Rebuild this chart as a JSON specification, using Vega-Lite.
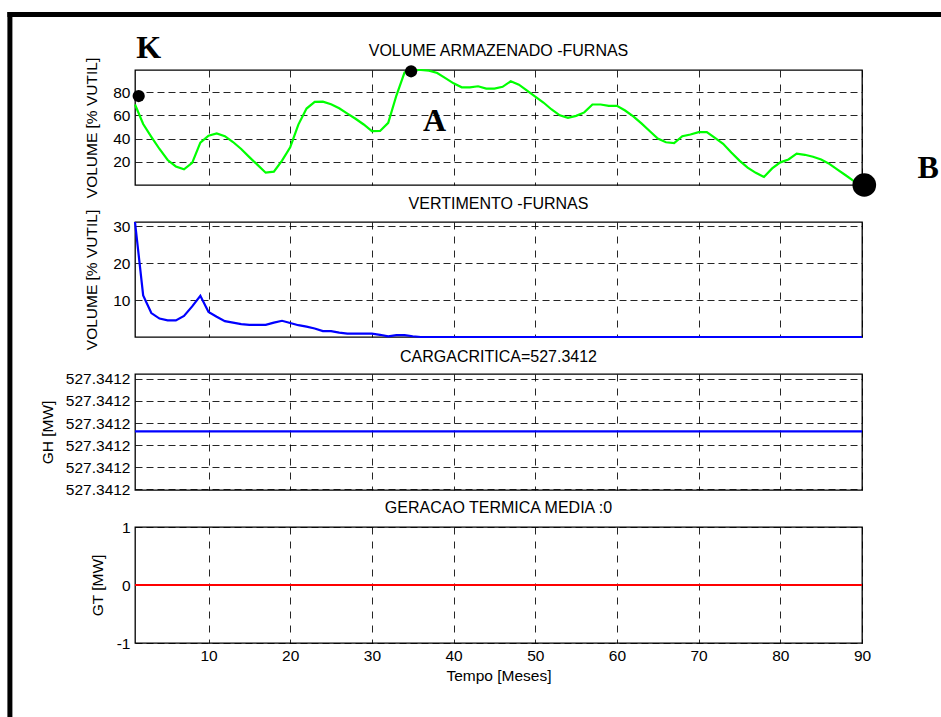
{
  "$schema": "https://vega.github.io/schema/vega-lite/v6.json",
  "background": "white",
  "padding": {"left": 4, "top": 8, "right": 0, "bottom": 0},
  "bounds": "flush",
  "spacing": 37,
  "config": {
    "font": "Liberation Sans",
    "view": {"stroke": "black", "strokeWidth": 1.3},
    "axis": {
      "labelFont": "Liberation Sans", "labelFontSize": 15.5, "labelColor": "black", "labelOverlap": false, "labelFlush": false,
      "titleFont": "Liberation Sans", "titleFontSize": 15.5, "titleFontWeight": "normal", "titleColor": "black",
      "grid": true, "gridColor": "black", "gridOpacity": 0.85, "gridWidth": 1,
      "domain": false, "ticks": false, "tickSize": 0, "labelPadding": 5
    },
    "axisX": {"gridDash": [7, 7]},
    "axisY": {"gridDash": [7, 4]},
    "title": {"font": "Liberation Sans", "fontSize": 16, "fontWeight": "normal", "color": "black", "anchor": "middle", "frame": "group", "offset": 4.5}
  },
  "datasets": {
    "series": [
      {"month": 1, "vol": 69.3, "vert": 31.2, "gh": 527.34119762, "gt": 0},
      {"month": 2, "vol": 52.5, "vert": 11.3, "gh": 527.34119762, "gt": 0},
      {"month": 3, "vol": 41.5, "vert": 6.5, "gh": 527.34119762, "gt": 0},
      {"month": 4, "vol": 31, "vert": 5, "gh": 527.34119762, "gt": 0},
      {"month": 5, "vol": 21.5, "vert": 4.5, "gh": 527.34119762, "gt": 0},
      {"month": 6, "vol": 16, "vert": 4.5, "gh": 527.34119762, "gt": 0},
      {"month": 7, "vol": 13.5, "vert": 5.7, "gh": 527.34119762, "gt": 0},
      {"month": 8, "vol": 19, "vert": 8.3, "gh": 527.34119762, "gt": 0},
      {"month": 9, "vol": 36.5, "vert": 11.2, "gh": 527.34119762, "gt": 0},
      {"month": 10, "vol": 42.5, "vert": 6.8, "gh": 527.34119762, "gt": 0},
      {"month": 11, "vol": 44.4, "vert": 5.5, "gh": 527.34119762, "gt": 0},
      {"month": 12, "vol": 42, "vert": 4.3, "gh": 527.34119762, "gt": 0},
      {"month": 13, "vol": 37, "vert": 3.9, "gh": 527.34119762, "gt": 0},
      {"month": 14, "vol": 31, "vert": 3.5, "gh": 527.34119762, "gt": 0},
      {"month": 15, "vol": 24, "vert": 3.3, "gh": 527.34119762, "gt": 0},
      {"month": 16, "vol": 17.3, "vert": 3.3, "gh": 527.34119762, "gt": 0},
      {"month": 17, "vol": 10.6, "vert": 3.3, "gh": 527.34119762, "gt": 0},
      {"month": 18, "vol": 11.5, "vert": 3.9, "gh": 527.34119762, "gt": 0},
      {"month": 19, "vol": 21, "vert": 4.4, "gh": 527.34119762, "gt": 0},
      {"month": 20, "vol": 32.5, "vert": 3.8, "gh": 527.34119762, "gt": 0},
      {"month": 21, "vol": 52, "vert": 3.2, "gh": 527.34119762, "gt": 0},
      {"month": 22, "vol": 65.8, "vert": 2.8, "gh": 527.34119762, "gt": 0},
      {"month": 23, "vol": 71.5, "vert": 2.3, "gh": 527.34119762, "gt": 0},
      {"month": 24, "vol": 71.8, "vert": 1.6, "gh": 527.34119762, "gt": 0},
      {"month": 25, "vol": 69.5, "vert": 1.6, "gh": 527.34119762, "gt": 0},
      {"month": 26, "vol": 66, "vert": 1.2, "gh": 527.34119762, "gt": 0},
      {"month": 27, "vol": 61.5, "vert": 0.9, "gh": 527.34119762, "gt": 0},
      {"month": 28, "vol": 57, "vert": 0.9, "gh": 527.34119762, "gt": 0},
      {"month": 29, "vol": 52.1, "vert": 0.9, "gh": 527.34119762, "gt": 0},
      {"month": 30, "vol": 46.4, "vert": 0.9, "gh": 527.34119762, "gt": 0},
      {"month": 31, "vol": 46.5, "vert": 0.6, "gh": 527.34119762, "gt": 0},
      {"month": 32, "vol": 53.5, "vert": 0.2, "gh": 527.34119762, "gt": 0},
      {"month": 33, "vol": 77, "vert": 0.5, "gh": 527.34119762, "gt": 0},
      {"month": 34, "vol": 97, "vert": 0.5, "gh": 527.34119762, "gt": 0},
      {"month": 35, "vol": 99, "vert": 0.2, "gh": 527.34119762, "gt": 0},
      {"month": 36, "vol": 99, "vert": 0, "gh": 527.34119762, "gt": 0},
      {"month": 37, "vol": 98.5, "vert": 0, "gh": 527.34119762, "gt": 0},
      {"month": 38, "vol": 96.4, "vert": 0, "gh": 527.34119762, "gt": 0},
      {"month": 39, "vol": 92, "vert": 0, "gh": 527.34119762, "gt": 0},
      {"month": 40, "vol": 87.5, "vert": 0, "gh": 527.34119762, "gt": 0},
      {"month": 41, "vol": 84.1, "vert": 0, "gh": 527.34119762, "gt": 0},
      {"month": 42, "vol": 84.1, "vert": 0, "gh": 527.34119762, "gt": 0},
      {"month": 43, "vol": 85, "vert": 0, "gh": 527.34119762, "gt": 0},
      {"month": 44, "vol": 83, "vert": 0, "gh": 527.34119762, "gt": 0},
      {"month": 45, "vol": 83, "vert": 0, "gh": 527.34119762, "gt": 0},
      {"month": 46, "vol": 84.5, "vert": 0, "gh": 527.34119762, "gt": 0},
      {"month": 47, "vol": 89.3, "vert": 0, "gh": 527.34119762, "gt": 0},
      {"month": 48, "vol": 86.4, "vert": 0, "gh": 527.34119762, "gt": 0},
      {"month": 49, "vol": 81.3, "vert": 0, "gh": 527.34119762, "gt": 0},
      {"month": 50, "vol": 76, "vert": 0, "gh": 527.34119762, "gt": 0},
      {"month": 51, "vol": 71, "vert": 0, "gh": 527.34119762, "gt": 0},
      {"month": 52, "vol": 65, "vert": 0, "gh": 527.34119762, "gt": 0},
      {"month": 53, "vol": 60, "vert": 0, "gh": 527.34119762, "gt": 0},
      {"month": 54, "vol": 57.8, "vert": 0, "gh": 527.34119762, "gt": 0},
      {"month": 55, "vol": 59.5, "vert": 0, "gh": 527.34119762, "gt": 0},
      {"month": 56, "vol": 62.5, "vert": 0, "gh": 527.34119762, "gt": 0},
      {"month": 57, "vol": 69.3, "vert": 0, "gh": 527.34119762, "gt": 0},
      {"month": 58, "vol": 69.3, "vert": 0, "gh": 527.34119762, "gt": 0},
      {"month": 59, "vol": 68.1, "vert": 0, "gh": 527.34119762, "gt": 0},
      {"month": 60, "vol": 68.1, "vert": 0, "gh": 527.34119762, "gt": 0},
      {"month": 61, "vol": 64.1, "vert": 0, "gh": 527.34119762, "gt": 0},
      {"month": 62, "vol": 59, "vert": 0, "gh": 527.34119762, "gt": 0},
      {"month": 63, "vol": 53, "vert": 0, "gh": 527.34119762, "gt": 0},
      {"month": 64, "vol": 46.5, "vert": 0, "gh": 527.34119762, "gt": 0},
      {"month": 65, "vol": 40, "vert": 0, "gh": 527.34119762, "gt": 0},
      {"month": 66, "vol": 36.8, "vert": 0, "gh": 527.34119762, "gt": 0},
      {"month": 67, "vol": 36, "vert": 0, "gh": 527.34119762, "gt": 0},
      {"month": 68, "vol": 42, "vert": 0, "gh": 527.34119762, "gt": 0},
      {"month": 69, "vol": 43.5, "vert": 0, "gh": 527.34119762, "gt": 0},
      {"month": 70, "vol": 45.5, "vert": 0, "gh": 527.34119762, "gt": 0},
      {"month": 71, "vol": 45.5, "vert": 0, "gh": 527.34119762, "gt": 0},
      {"month": 72, "vol": 40.5, "vert": 0, "gh": 527.34119762, "gt": 0},
      {"month": 73, "vol": 35.5, "vert": 0, "gh": 527.34119762, "gt": 0},
      {"month": 74, "vol": 28, "vert": 0, "gh": 527.34119762, "gt": 0},
      {"month": 75, "vol": 21, "vert": 0, "gh": 527.34119762, "gt": 0},
      {"month": 76, "vol": 15, "vert": 0, "gh": 527.34119762, "gt": 0},
      {"month": 77, "vol": 10.5, "vert": 0, "gh": 527.34119762, "gt": 0},
      {"month": 78, "vol": 6.9, "vert": 0, "gh": 527.34119762, "gt": 0},
      {"month": 79, "vol": 14.3, "vert": 0, "gh": 527.34119762, "gt": 0},
      {"month": 80, "vol": 19.5, "vert": 0, "gh": 527.34119762, "gt": 0},
      {"month": 81, "vol": 22, "vert": 0, "gh": 527.34119762, "gt": 0},
      {"month": 82, "vol": 27, "vert": 0, "gh": 527.34119762, "gt": 0},
      {"month": 83, "vol": 26, "vert": 0, "gh": 527.34119762, "gt": 0},
      {"month": 84, "vol": 24.3, "vert": 0, "gh": 527.34119762, "gt": 0},
      {"month": 85, "vol": 22, "vert": 0, "gh": 527.34119762, "gt": 0},
      {"month": 86, "vol": 18.2, "vert": 0, "gh": 527.34119762, "gt": 0},
      {"month": 87, "vol": 13.3, "vert": 0, "gh": 527.34119762, "gt": 0},
      {"month": 88, "vol": 8.4, "vert": 0, "gh": 527.34119762, "gt": 0},
      {"month": 89, "vol": 3.4, "vert": 0, "gh": 527.34119762, "gt": 0},
      {"month": 90, "vol": 0, "vert": 0, "gh": 527.34119762, "gt": 0}
    ],
    "markers": [
      {"point": "K", "month": 1.45, "value": 76.6, "dot": 150, "lx": 2.68, "ly": 109.6},
      {"point": "A", "month": 34.8, "value": 97.9, "dot": 150, "lx": 37.68, "ly": 46.5},
      {"point": "B", "month": 90.28, "value": 0, "dot": 560, "lx": 98.1, "ly": 6.0}
    ]
  },
  "vconcat": [
    {
      "width": 727, "height": 115,
      "title": {"text": "VOLUME ARMAZENADO -FURNAS", "offset": -49},
      "resolve": {"axis": {"x": "independent", "y": "independent"}},
      "layer": [
        {
          "data": {"name": "series"},
          "mark": {"type": "line", "color": "#00ff00", "strokeWidth": 2.2},
          "encoding": {
            "x": {"field": "month", "type": "quantitative", "scale": {"domain": [1, 90], "nice": false, "zero": false},
                  "axis": {"values": [10, 20, 30, 40, 50, 60, 70, 80, 90], "labels": false, "title": null}},
            "y": {"field": "vol", "type": "quantitative", "scale": {"domain": [0, 99], "nice": false},
                  "axis": {"values": [20, 40, 60, 80], "labelOverlap": false, "title": "VOLUME [% VUTIL]", "titlePadding": 13}}
          }
        },
        {
          "data": {"name": "markers"},
          "mark": {"type": "circle", "color": "black", "opacity": 1, "clip": false},
          "encoding": {
            "x": {"field": "month", "type": "quantitative", "axis": null},
            "y": {"field": "value", "type": "quantitative", "axis": null},
            "size": {"field": "dot", "type": "quantitative", "scale": null}
          }
        },
        {
          "data": {"name": "markers"},
          "mark": {"type": "text", "font": "Liberation Serif", "fontWeight": "bold", "fontSize": 32, "color": "black", "align": "center", "baseline": "alphabetic", "clip": false},
          "encoding": {
            "x": {"field": "lx", "type": "quantitative", "axis": null},
            "y": {"field": "ly", "type": "quantitative", "axis": null},
            "text": {"field": "point"}
          }
        },
        {
          "data": {"values": [{}]},
          "mark": {"type": "rule", "color": "black", "strokeWidth": 5, "clip": false},
          "encoding": {
            "x": {"datum": -14.315, "type": "quantitative", "axis": null},
            "y": {"datum": 148.93, "type": "quantitative", "axis": null},
            "y2": {"datum": -461.4}
          }
        },
        {
          "data": {"values": [{}]},
          "mark": {"type": "rule", "color": "black", "strokeWidth": 5, "clip": false},
          "encoding": {
            "x": {"datum": -14.62, "type": "quantitative", "axis": null},
            "x2": {"datum": 100.2},
            "y": {"datum": 146.78, "type": "quantitative", "axis": null}
          }
        }
      ]
    },
    {
      "width": 727, "height": 115,
      "title": {"text": "VERTIMENTO -FURNAS", "offset": -3},
      "data": {"name": "series"},
      "mark": {"type": "line", "color": "#0000ff", "strokeWidth": 2.2},
      "encoding": {
        "x": {"field": "month", "type": "quantitative", "scale": {"domain": [1, 90], "nice": false, "zero": false},
              "axis": {"values": [10, 20, 30, 40, 50, 60, 70, 80, 90], "labels": false, "title": null}},
        "y": {"field": "vert", "type": "quantitative", "scale": {"domain": [0, 31.2], "nice": false},
              "axis": {"values": [10, 20, 30], "labelOverlap": false, "title": "VOLUME [% VUTIL]", "titlePadding": 13}}
      }
    },
    {
      "width": 727, "height": 116,
      "title": {"text": "CARGACRITICA=527.3412", "offset": 6.5},
      "data": {"name": "series"},
      "mark": {"type": "line", "color": "#0000ff", "strokeWidth": 2.2},
      "encoding": {
        "x": {"field": "month", "type": "quantitative", "scale": {"domain": [1, 90], "nice": false, "zero": false},
              "axis": {"values": [10, 20, 30, 40, 50, 60, 70, 80, 90], "labels": false, "title": null}},
        "y": {"field": "gh", "type": "quantitative",
              "scale": {"domain": [527.341194955, 527.341200227], "nice": false, "zero": false},
              "axis": {"values": [527.341195, 527.341196, 527.341197, 527.341198, 527.341199, 527.3412], "format": ".4f", "labelOverlap": false, "title": "GH [MW]", "titlePadding": 10}}
      }
    },
    {
      "width": 727, "height": 116,
      "title": {"text": "GERACAO TERMICA MEDIA :0", "offset": 4},
      "data": {"name": "series"},
      "mark": {"type": "line", "color": "#ff0000", "strokeWidth": 2.2},
      "encoding": {
        "x": {"field": "month", "type": "quantitative", "scale": {"domain": [1, 90], "nice": false, "zero": false},
              "axis": {"values": [10, 20, 30, 40, 50, 60, 70, 80, 90], "labelFlush": false, "labelOverlap": false, "title": "Tempo [Meses]", "labelPadding": 5, "titlePadding": 5}},
        "y": {"field": "gt", "type": "quantitative", "scale": {"domain": [-1, 1], "nice": false},
              "axis": {"values": [-1, 0, 1], "labelExpr": "toString(datum.value)", "labelOverlap": false, "title": "GT [MW]", "titlePadding": 11}}
      }
    }
  ]
}
